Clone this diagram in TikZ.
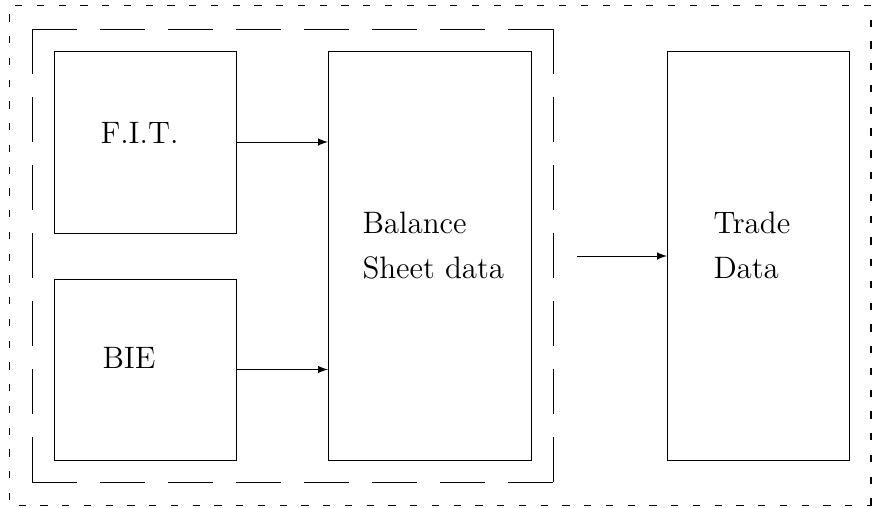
\documentclass[tikz,border=0pt]{standalone}
\usetikzlibrary{arrows}
\begin{document}
\begin{tikzpicture}[x=0.4pt, y=-0.4pt,
  box/.style={draw, inner sep=0pt, outer sep=0pt},
  lbl/.style={anchor=base west, inner sep=0pt, font=\fontsize{12.4}{18}\selectfont},
  flow/.style={-latex, line width=0.4pt},
  group/.style={line width=0.4pt, dash pattern=on 18pt off 9.2pt},
  frame/.style={line width=0.5pt, dash pattern=on 2.9pt off 5.8pt}]
  \useasboundingbox (0,0) rectangle (872,507);

  % outer frame
  \draw[frame] (871,505.5) rectangle (9.5,5.5);

  % inner group frame, each side starting and ending with a dash
  \draw[group] (32,29) -- (553,29);
  \draw[group] (32,29) -- (32,482);
  \draw[group] (32,482) -- (553,482);
  \draw[group] (553,29) -- (553,482);

  % boxes
  \node[box, minimum width=72.4pt, minimum height=72.8pt] (fit) at (145.5,142) {};
  \node[box, minimum width=72.4pt, minimum height=72.4pt] (bie) at (145.5,369.5) {};
  \node[box, minimum width=81.2pt, minimum height=163.6pt] (bal) at (429.5,255.5) {};
  \node[box, minimum width=72.8pt, minimum height=163.6pt] (trade) at (758,255.5) {};

  % labels
  \node[lbl] (fitlbl) at (100,143) {F.I.T.};
  \node[lbl] (bielbl) at (102,368) {BIE};
  \node[lbl] (ballbla) at (362,233) {Balance};
  \node[lbl] (ballblb) at (362,278) {Sheet data};
  \node[lbl] (tradelbla) at (713,233) {Trade};
  \node[lbl] (tradelblb) at (713,278) {Data};

  % connectors
  \draw[flow] (fit.east) -- (fit.east -| bal.west);
  \draw[flow] (bie.east) -- (bie.east -| bal.west);
  \coordinate (src) at (577,256);
  \draw[flow] (src) -- (src -| trade.west);
\end{tikzpicture}
\end{document}
